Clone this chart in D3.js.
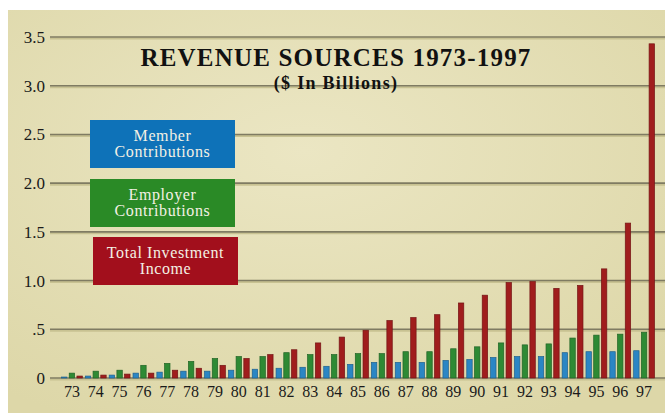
<!DOCTYPE html>
<html>
<head>
<meta charset="utf-8">
<script src="https://cdn.jsdelivr.net/npm/d3@7"></script>
<style>
  html, body { margin: 0; padding: 0; background: #fff; }
  svg { display: block; }
  text { font-family: "Liberation Serif", "DejaVu Serif", serif; }
</style>
</head>
<body>
<div id="chart"></div>
<script>
// ---- data ($ billions) ----
const years = ["73","74","75","76","77","78","79","80","81","82","83","84","85","86","87","88","89","90","91","92","93","94","95","96","97"];
const member = [0.01,0.02,0.03,0.05,0.06,0.07,0.07,0.08,0.09,0.10,0.11,0.12,0.14,0.16,0.16,0.16,0.18,0.19,0.21,0.22,0.22,0.26,0.27,0.27,0.28];
const employer = [0.05,0.07,0.08,0.13,0.15,0.17,0.20,0.22,0.22,0.26,0.24,0.24,0.25,0.25,0.27,0.27,0.30,0.32,0.36,0.34,0.35,0.41,0.44,0.45,0.47];
const investment = [0.02,0.03,0.04,0.05,0.08,0.10,0.13,0.20,0.24,0.29,0.36,0.42,0.49,0.59,0.62,0.65,0.77,0.85,0.98,0.99,0.92,0.95,1.12,1.59,3.43];
const yTicks = [0, 0.5, 1, 1.5, 2, 2.5, 3, 3.5];
const yTickLabels = ["0", ".5", "1.0", "1.5", "2.0", "2.5", "3.0", "3.5"];
const seriesNames = ["Member Contributions", "Employer Contributions", "Total Investment Income"];

const W = 665, H = 419;
const colors = { member: "#2b86c4", employer: "#2e8a34", investment: "#a01d1d" };

const svg = d3.select("#chart").append("svg")
  .attr("width", W).attr("height", H);

// parchment background
const defs = svg.append("defs");
const bg = defs.append("radialGradient").attr("id", "bg")
  .attr("cx", "45%").attr("cy", "35%").attr("r", "75%");
bg.append("stop").attr("offset", "0%").attr("stop-color", "#ebe6c3");
bg.append("stop").attr("offset", "100%").attr("stop-color", "#ddd7a8");
svg.append("rect").attr("x", 8).attr("y", 10).attr("width", W - 8).attr("height", 403)
  .attr("fill", "url(#bg)");

// scales
const y = d3.scaleLinear().domain([0, 3.5]).range([378, 37]);
const x = d3.scaleBand().domain(years).range([60, 656]).padding(0);
const xs = d3.scaleBand().domain(["member", "employer", "investment"])
  .range([1.5, x.bandwidth() - 1.5]).paddingInner(0.3);

// gridlines
const grid = svg.append("g");
grid.selectAll("line.shadow").data(yTicks).join("line")
  .attr("class", "shadow")
  .attr("x1", 50).attr("x2", W)
  .attr("y1", d => y(d) + 1.5).attr("y2", d => y(d) + 1.5)
  .attr("stroke", "#c8c292").attr("stroke-width", 2);
grid.selectAll("line.main").data(yTicks).join("line")
  .attr("class", "main")
  .attr("x1", 50).attr("x2", W)
  .attr("y1", d => y(d)).attr("y2", d => y(d))
  .attr("stroke", "#7f7b62").attr("stroke-width", 1.6);

// y axis labels
const yAxis = d3.axisLeft(y).tickValues(yTicks)
  .tickFormat((d, i) => yTickLabels[i]).tickSize(0).tickPadding(0);
const yg = svg.append("g").attr("transform", "translate(45,0)").call(yAxis);
yg.select(".domain").remove();
yg.selectAll("text").attr("font-size", 17).attr("fill", "#1a1a1a")
  .attr("font-family", "Liberation Serif, serif");

// x axis labels
const xAxis = d3.axisBottom(x).tickSize(0).tickPadding(0);
const xg = svg.append("g").attr("transform", "translate(0,386)").call(xAxis);
xg.select(".domain").remove();
xg.selectAll("text").attr("font-size", 16).attr("fill", "#1a1a1a")
  .attr("font-family", "Liberation Serif, serif");

// bars
const rows = years.map((yr, i) => ({ yr, member: member[i], employer: employer[i], investment: investment[i] }));
const keys = ["member", "employer", "investment"];
const groups = svg.append("g").selectAll("g").data(rows).join("g")
  .attr("transform", d => `translate(${x(d.yr)},0)`);
groups.selectAll("rect").data(d => keys.map(k => ({ k, v: d[k] }))).join("rect")
  .attr("x", d => xs(d.k))
  .attr("width", xs.bandwidth())
  .attr("y", d => y(d.v))
  .attr("height", d => y(0) - y(d.v))
  .attr("fill", d => colors[d.k])
  .attr("stroke", d => d3.color(colors[d.k]).darker(0.9))
  .attr("stroke-width", 0.7);

// title
svg.append("text").attr("x", 336).attr("y", 66).attr("text-anchor", "middle")
  .attr("font-size", 25).attr("font-weight", "bold").attr("fill", "#111")
  .attr("letter-spacing", 1.2)
  .text("REVENUE SOURCES 1973-1997");
svg.append("text").attr("x", 336).attr("y", 89).attr("text-anchor", "middle")
  .attr("font-size", 18).attr("font-weight", "bold").attr("fill", "#111")
  .attr("letter-spacing", 1.3)
  .text("($ In Billions)");

// legend boxes
const legend = [
  { name: seriesNames[0], lines: ["Member", "Contributions"], fill: "#0e72b8", x: 90, y: 120 },
  { name: seriesNames[1], lines: ["Employer", "Contributions"], fill: "#2a8a26", x: 90, y: 179 },
  { name: seriesNames[2], lines: ["Total Investment", "Income"], fill: "#a20f1c", x: 93, y: 237 }
];
const lg = svg.append("g").selectAll("g").data(legend).join("g")
  .attr("transform", d => `translate(${d.x},${d.y})`);
lg.append("rect").attr("width", 145).attr("height", 48).attr("fill", d => d.fill);
lg.append("text").attr("x", 72.5).attr("y", 21).attr("text-anchor", "middle")
  .attr("font-size", 16).attr("letter-spacing", 0.6).attr("fill", "#f4f1e4")
  .selectAll("tspan").data(d => d.lines).join("tspan")
  .attr("x", 72.5).attr("dy", (d, i) => i === 0 ? 0 : 16).text(d => d);
</script>
</body>
</html>
